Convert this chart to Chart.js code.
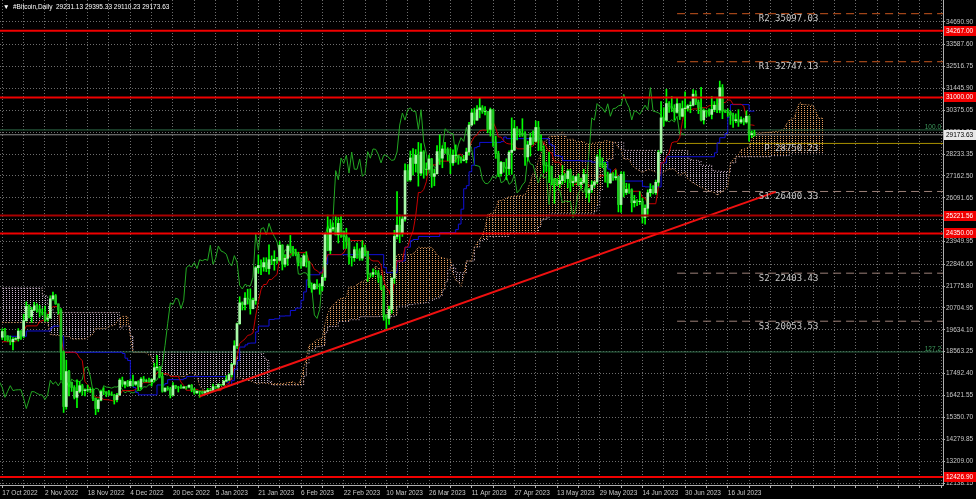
<!DOCTYPE html>
<html>
<head>
<meta charset="utf-8">
<script src="https://cdn.jsdelivr.net/npm/chart.js@4.4.0/dist/chart.umd.min.js"></script>
<style>
  html, body { margin: 0; padding: 0; background: #000; }
  #wrap { width: 976px; height: 499px; position: relative; }
</style>
</head>
<body>
<div id="wrap"><canvas id="myChart"></canvas></div>
<script>
// daily bars, day 0 = 17 Oct 2022 ... day 282 = 26 Jul 2023
const firstOpen = 19270;
const highs = [
  19680,19700,19350,19330,19250,19250,19690,19600,20400,21000,
  20860,20740,20980,20900,20830,20660,20790,20390,21300,21480,
  21360,20900,20670,18600,18150,17650,17070,16900,17180,17100,
  16970,16740,16930,16800,16750,16300,16250,16680,16800,16610,
  16660,16600,16480,16530,17240,17320,17100,17160,17200,17420,
  17110,17140,17300,17350,17220,17270,17240,18000,18390,17850,
  17530,16800,16860,16820,17050,16920,16870,16940,16860,16860,
  16940,16960,16780,16650,16640,16640,16630,16770,16760,16980,
  16880,16990,16960,17170,17390,17480,17990,19100,19960,21250,
  21000,21460,21620,21640,21190,22730,23300,23060,23160,23160,
  23790,23250,23500,23180,23950,23800,23310,23800,24250,23720,
  23580,23430,23160,23350,23450,22990,21930,21900,22090,21890,
  22320,24370,25250,25020,24870,25180,25120,25250,24470,24600,
  24130,23220,23690,23870,23600,24000,23780,23480,22410,22610,
  22550,22530,22270,21800,20370,20790,22180,24500,26400,25250,
  25200,27750,27720,28380,28500,28450,28800,28740,28400,27800,
  28180,28020,27500,28640,29170,28640,28800,28540,28500,28440,
  28680,28180,28100,28170,28520,29780,30420,30480,30600,31000,
  30600,30550,30320,30480,30410,29100,28370,27880,27830,28000,
  28390,30000,29880,29580,29450,29960,29330,28860,29260,29370,
  29850,29830,29170,28640,27840,28330,27640,27050,27030,27190,
  27670,27270,27470,27480,27170,27150,27270,27050,27490,27230,
  26550,26920,26900,28190,28450,28040,27830,27350,27300,27320,
  27450,27130,27360,27360,26800,26780,26530,26210,26000,26400,
  26080,25750,26480,26780,26690,26960,28400,30800,30500,31400,
  30800,31050,30650,31000,30700,30830,31280,30650,30790,31380,
  31330,30880,31500,30440,30380,30440,31050,30800,30990,31800,
  31630,30400,30450,30340,30230,30200,30400,30050,29990,30340,
  30100,29360,29395.33
];
const lows = [
  19160,19100,19070,18900,18650,19130,19080,19160,19240,20060,
  20220,20000,20560,20500,20250,20350,20060,20050,20190,21080,
  20880,20400,17170,15590,15750,16400,16620,16250,15820,16550,
  16430,16400,16590,16560,16170,15480,15620,16160,16460,16360,
  16420,16410,16000,16110,16430,16860,16790,16860,16880,16880,
  16910,16680,16730,17080,17090,17070,16880,17080,17660,17280,
  16580,16590,16670,16300,16400,16750,16590,16760,16780,16730,
  16790,16600,16480,16510,16330,16490,16500,16550,16610,16660,
  16760,16680,16910,16910,17100,17140,17320,17910,18720,19900,
  20600,20600,20890,20400,20660,20880,22400,22330,22500,22480,
  22360,22820,22550,22880,23000,22560,22710,22780,23380,23250,
  23260,22760,22630,22750,22700,21700,21470,21600,21630,21370,
  21540,22050,23500,23350,24460,24270,23880,24150,23600,23620,
  22850,22750,22980,23120,23030,23030,23230,22000,22200,22220,
  22330,21950,21600,20100,19600,19900,20440,21900,24080,23900,
  24200,24950,26900,26900,27200,27350,26660,27180,27050,27200,
  27460,26600,26680,27250,27720,27560,28260,27900,27270,27680,
  27830,27730,27800,27890,27800,28180,29630,29700,29870,30000,
  30220,30150,29270,29110,28600,28020,27130,27150,27340,26970,
  27210,27240,28390,28920,29080,29100,27680,27880,28130,28700,
  28820,28400,28380,27300,27380,26830,26720,25820,26690,26590,
  26760,26840,26580,26390,26660,26840,26690,26550,26800,26100,
  25880,26350,26600,26800,27600,27560,26860,26610,26800,26940,
  26960,25400,25370,26130,26250,26300,25400,25640,25700,25760,
  24850,24800,25180,26160,26280,26260,26670,28270,29600,29830,
  30270,30300,29900,30230,29920,30050,29500,30330,30250,30580,
  30650,30210,29850,29700,30050,30080,29950,30300,30250,30250,
  29960,30250,30070,29680,29530,29760,29580,29730,29660,29740,
  28860,29030,29110.23
];
const closes = [
  19550,19330,19130,19050,19170,19205,19570,19330,20080,20770,
  20290,20600,20810,20630,20490,20480,20150,20210,21150,21300,
  20900,20590,18540,15880,17590,17070,16810,16330,16620,16900,
  16660,16690,16700,16700,16280,15780,16190,16610,16600,16520,
  16460,16440,16220,16440,17170,16970,17090,16890,17110,16970,
  17090,16840,17220,17130,17130,17100,17200,17780,17810,17360,
  16630,16780,16740,16440,16900,16830,16820,16780,16840,16830,
  16920,16700,16550,16630,16600,16540,16610,16670,16670,16850,
  16830,16950,16940,17120,17180,17440,17940,18850,19930,20950,
  20870,21180,21130,20670,21070,22670,22780,22710,22920,22630,
  23060,23010,23080,23030,23770,22840,23130,23730,23490,23430,
  23330,22930,22760,23260,22950,21800,21630,21860,21790,21780,
  22200,24330,23520,24570,24630,24280,24840,24450,24190,23950,
  23200,23160,23550,23490,23140,23650,23470,22360,22350,22430,
  22410,22200,21720,20360,20190,20630,22160,24200,24750,24380,
  25050,27420,26970,28040,27770,28170,27300,28330,27490,27490,
  27990,27140,27270,28350,28030,28480,28460,28200,27800,28170,
  28180,28040,27920,27950,28330,29650,30240,29890,30400,30490,
  30320,30320,29440,30400,28820,28250,27280,27820,27590,27520,
  28310,28420,29470,29340,29250,29230,28090,28680,29030,28850,
  29530,28900,28450,27690,27660,27620,26990,26800,26780,26930,
  27170,27030,27400,26830,26890,27120,26750,26850,27230,26330,
  26480,26720,26870,28090,27750,27700,27220,26820,27250,27070,
  27120,25760,27240,26350,26500,26480,25850,25940,25900,25920,
  25130,25580,26340,26510,26340,26850,28310,30000,29890,30700,
  30550,30470,30270,30690,30080,30450,30480,30590,30620,31160,
  30770,30510,29900,30350,30290,30170,30410,30620,30390,31480,
  30330,30300,30250,30140,29860,29910,29800,29910,29800,30080,
  29180,29231.13,29173.63
];

// Ichimoku lines, [day, price]
const tenkan = [
  [0,19050],[5,19050],[6,19175],[8,19525],[9,19825],[13,19825],[14,20040],[16,20120],[18,20650],[19,20765],
  [21,20765],[22,19325],[23,18535],[27,18535],[28,18475],[29,18245],[30,18130],[31,17095],[32,16950],[33,16735],
  [34,16500],[35,16330],[37,16330],[38,16225],[40,16205],[42,16140],[44,16430],[45,16660],[49,16660],[50,16710],
  [52,16925],[53,17050],[56,17050],[57,17340],[58,17535],[59,17535],[60,17485],[62,17485],[63,17345],[66,17345],
  [67,17075],[68,16915],[69,16675],[71,16675],[72,16725],[73,16720],[74,16645],[78,16645],[79,16655],[82,16660],
  [83,16830],[84,16945],[85,17015],[86,17300],[87,17855],[88,18320],[89,18965],[90,19080],[91,19185],[92,19360],
  [93,19390],[94,19480],[95,20320],[96,21010],[97,21600],[98,21850],[99,21850],[100,22095],[101,22095],[102,22225],
  [103,22335],[104,23140],[105,23140],[106,23155],[107,23155],[108,23305],[109,23400],[111,23400],[112,23405],[113,23405],
  [114,23440],[115,22975],[116,22860],[117,22595],[118,22525],[119,22410],[120,22410],[121,22870],[122,23310],[127,23310],
  [128,23395],[129,23650],[130,24050],[131,24000],[135,24000],[136,23675],[137,23300],[138,23065],[139,23000],[141,23000],
  [142,22800],[143,22050],[144,21690],[145,21540],[146,21105],[147,22050],[148,23000],[150,23000],[151,23675],[152,23675],
  [153,24140],[154,24470],[155,25200],[156,26350],[157,26350],[158,26500],[159,26875],[160,27730],[161,27700],[163,27700],
  [164,27885],[169,27885],[170,27925],[171,28210],[172,28220],[173,28035],[174,28035],[175,28525],[176,28845],[177,29080],
  [178,29165],[179,29365],[180,29400],[182,29400],[183,29590],[184,29800],[185,29510],[186,29065],[187,29065],[188,28865],
  [189,28760],[190,28725],[191,28725],[192,28690],[193,28485],[197,28485],[198,28605],[199,28620],[200,28820],[203,28820],
  [204,28575],[205,28340],[206,28285],[207,27835],[208,27835],[209,27825],[210,27495],[211,27230],[212,27075],[213,27075],
  [214,26745],[215,26745],[216,27030],[218,27030],[219,26795],[220,26685],[222,26685],[223,27035],[224,27165],[228,27165],
  [229,27400],[230,27525],[231,26925],[232,26910],[233,26705],[234,26600],[235,26410],[239,26410],[240,26105],[241,26080],
  [242,25800],[245,25800],[246,26600],[247,27800],[248,27800],[249,28100],[250,28290],[251,28780],[252,28830],[253,28830],
  [254,29035],[255,29835],[256,30450],[257,30450],[258,30390],[259,30440],[261,30440],[262,30500],[264,30500],[265,30600],
  [268,30600],[269,30750],[271,30750],[272,30875],[273,30875],[274,30665],[277,30665],[278,30580],[279,29990],[280,29655],
  [281,29655],[282,29630]
];
const kijun = [
  [0,19315],[9,19575],[18,19725],[19,19815],[22,19325],[23,18535],[45,18475],[46,18245],[47,18130],[48,17095],
  [49,16815],[50,16565],[51,16450],[58,16935],[61,17005],[62,17195],[68,17250],[69,17345],[84,17075],[85,16915],
  [86,17145],[87,17700],[88,18130],[89,18790],[91,18895],[92,18975],[93,18985],[95,19530],[96,19815],[100,20140],
  [102,20170],[104,20305],[106,20315],[108,20580],[110,20695],[112,21080],[113,21485],[114,22075],[115,22325],[119,22455],
  [120,22565],[121,22870],[122,23310],[143,22675],[144,22425],[148,23000],[151,23675],[153,23990],[154,24050],[156,24200],
  [164,24385],[170,24535],[171,24805],[172,25535],[173,26535],[174,26685],[175,27365],[176,27685],[177,28540],[178,28600],
  [179,28800],[187,28840],[188,29065],[189,28985],[205,28715],[206,28635],[207,28150],[209,28115],[210,27910],[217,27890],
  [221,27835],[226,27825],[227,27495],[228,27230],[229,27135],[232,26910],[240,26650],[241,26625],[247,27800],[249,28100],
  [267,28290],[268,28780],[269,29030],[271,29235],[272,30035],[273,30650],[280,30330],[282,30330]
];
const senkouA = [
  [0,19990],[17,19990],[18,19400],[25,19300],[26,19183],[31,19183],[32,19245],[34,19420],[35,19700],[39,19700],
  [40,19808],[42,19848],[44,20188],[45,20290],[47,20290],[48,19325],[49,18535],[53,18535],[54,18505],[55,18390],
  [56,18333],[57,17815],[58,17743],[59,17635],[60,17518],[61,17433],[64,17380],[66,17370],[68,17338],[70,17483],
  [71,17568],[72,17453],[73,17395],[74,16878],[75,16738],[76,16638],[77,16580],[78,16688],[79,16750],[83,16895],
  [84,17235],[86,17210],[87,17245],[88,17340],[89,17270],[93,17135],[94,17083],[95,17010],[98,17035],[100,16995],
  [105,17000],[109,17088],[110,17010],[111,16965],[112,17223],[113,17778],[114,18225],[115,18878],[116,18935],[117,19040],
  [118,19168],[119,19188],[120,19233],[121,19925],[122,20413],[123,20708],[124,20833],[126,21118],[128,21198],[129,21253],
  [130,21723],[132,21735],[134,21943],[135,21990],[136,22048],[138,22243],[139,22445],[140,22758],[141,22650],[142,22593],
  [143,22460],[144,22425],[145,22433],[146,22488],[147,22870],[148,23310],[153,23310],[154,23353],[155,23480],[156,23680],
  [157,23655],[161,23655],[162,23493],[163,23305],[164,23188],[165,23155],[168,23055],[169,22363],[170,22058],[171,21983],
  [172,21765],[173,22238],[174,23000],[176,23000],[177,23675],[179,24065],[180,24260],[181,24625],[182,25275],[184,25350],
  [185,25538],[186,25965],[187,25950],[190,26135],[196,26230],[197,26508],[198,26878],[199,27285],[200,27360],[201,27945],
  [202,28265],[203,28810],[204,28883],[205,29083],[206,29100],[208,29100],[209,29195],[210,29300],[211,29155],[212,28933],
  [213,28953],[214,28965],[215,28873],[216,28855],[218,28838],[219,28735],[224,28795],[225,28803],[226,28903],[230,28780],
  [231,28528],[232,28460],[233,27993],[235,27970],[236,27703],[237,27570],[238,27493],[240,27328],[242,27470],[243,27460],
  [245,27343],[246,27288],[247,27260],[249,27435],[250,27500],[252,27495],[253,27330],[254,27198],[255,27268],[256,27330],
  [257,27030],[258,26910],[259,26808],[260,26755],[261,26660],[266,26378],[267,26353],[268,26213],[272,26613],[273,27800],
  [275,28100],[276,28195],[277,28440],[278,28465],[280,28568],[281,28968],[282,29275],[284,29245],[285,29270],[288,29300],
  [291,29350],[293,29445],[294,29690],[295,29890],[297,29993],[298,30455],[299,30763],[300,30658],[304,30615],[305,30320],
  [306,29993],[308,29980]
];
const senkouB = [
  [0,21675],[15,21300],[17,20875],[18,20675],[19,20475],[44,19725],[45,19815],[48,19325],[49,18535],[97,18475],
  [98,18245],[99,18130],[100,17095],[101,16935],[113,17360],[114,17980],[115,18625],[117,18730],[118,18810],[119,18820],
  [120,18875],[121,19515],[122,19800],[126,20045],[130,20125],[134,20275],[141,20290],[147,20350],[148,20790],[152,20870],
  [154,20900],[156,20930],[158,20965],[160,21080],[162,21175],[163,21195],[164,21285],[165,21580],[166,21985],[167,22575],
  [168,22825],[169,22675],[170,22425],[174,23000],[177,23675],[179,23990],[180,24050],[182,24200],[190,24385],[201,24690],
  [202,25010],[203,25040],[204,25100],[205,25300],[222,25450],[223,25720],[224,26450],[225,27450],[226,27600],[227,27975],
  [229,28800],[233,28410],[257,28000],[258,27960],[259,27925],[261,27890],[262,27685],[266,27425],[267,27400],[269,27380],
  [273,27800],[275,28100],[288,28150],[295,28300],[308,28300]
];

// horizontal levels, pivots, fibo, trend line
const redLevels = [34267.00, 31000.00, 25221.56, 24350.00, 12426.90];
const pivotNames = ["R2", "R1", "P", "S1", "S2", "S3"];
const pivotValues = [35097.03, 32747.13, 28750.23, 26400.33, 22403.43, 20053.53];
const fiboNames = ["100.0", "127.2"];
const fiboValues = [29410, 18550];
const trendDays = [74, 290];
const trendValues = [16380, 26380];
const lastPrice = 29173.63;
const titleText = "#Bitcoin,Daily  29231.13 29395.33 29110.23 29173.63";

const xTickLabels = ["17 Oct 2022", "2 Nov 2022", "18 Nov 2022", "4 Dec 2022", "20 Dec 2022",
  "5 Jan 2023", "21 Jan 2023", "6 Feb 2023", "22 Feb 2023", "10 Mar 2023", "26 Mar 2023",
  "11 Apr 2023", "27 Apr 2023", "13 May 2023", "29 May 2023", "14 Jun 2023", "30 Jun 2023", "16 Jul 2023"];
const yTickLabels = ["34690.90", "33587.60", "32516.75", "31445.90", "30375.05", "29304.20", "28233.35",
  "27162.50", "26091.65", "25020.80", "23949.95", "22846.65", "21775.80", "20704.95", "19634.10",
  "18563.25", "17492.40", "16421.55", "15350.70", "14279.85", "13209.00", "12138.15"];

const xMin = -0.86, xMax = 352.7;
const yMin = 12041, yMax = 35767;
const pivotFrom = 253;
const pivotLabelDay = 306;
const FONT = '"Liberation Sans", "DejaVu Sans", sans-serif';

const ctx = document.getElementById("myChart").getContext("2d");

function dotPattern(color) {
  const c = document.createElement("canvas");
  c.width = 3; c.height = 2;
  const g = c.getContext("2d");
  g.fillStyle = color;
  g.fillRect(0, 0, 1, 1);
  return ctx.createPattern(c, "repeat");
}

const opens = closes.map((c, i) => (i ? closes[i - 1] : firstOpen));
const pts = (arr) => arr.map(([d, v]) => ({ x: d, y: v }));
const hline = (v, from) => [{ x: from, y: v }, { x: xMax, y: v }];

const lineBase = { type: "line", pointRadius: 0, borderWidth: 1, tension: 0, fill: false };

const datasets = [];
// red levels
redLevels.forEach((v, i) => datasets.push(Object.assign({}, lineBase, {
  data: hline(v, xMin), borderColor: i === 2 ? "#a80000" : "#f00000", borderWidth: 2
})));
// trend line
datasets.push(Object.assign({}, lineBase, {
  data: trendDays.map((d, i) => ({ x: d, y: trendValues[i] })), borderColor: "#f01010", borderWidth: 2
}));
// candles
datasets.push({
  type: "bar", grouped: false, barThickness: 2, borderWidth: 0,
  data: closes.map((c, i) => ({ x: i, y: [opens[i], c] })),
  backgroundColor: closes.map((c, i) => (c >= opens[i] ? "#a8f8a8" : "#20c820"))
});
datasets.push({
  type: "bar", grouped: false, barThickness: 1, borderWidth: 0,
  data: highs.map((h, i) => ({ x: i, y: [lows[i], h] })),
  backgroundColor: "#00ff00"
});
// ichimoku lines
datasets.push(Object.assign({}, lineBase, { data: pts(tenkan), borderColor: "#c80000" }));
datasets.push(Object.assign({}, lineBase, { data: pts(kijun), borderColor: "#1010d8", stepped: true }));
datasets.push(Object.assign({}, lineBase, {
  data: closes.map((c, i) => ({ x: i - 26, y: c })), borderColor: "#22a822"
}));
// pivots
pivotValues.forEach((v, i) => {
  const name = pivotNames[i];
  const isP = name === "P";
  datasets.push(Object.assign({}, lineBase, {
    data: hline(v, pivotFrom),
    borderColor: isP ? "#a89000" : (name[0] === "R" ? "#c8561e" : "#9c8078"),
    borderDash: isP ? [] : [8, 5]
  }));
});
// fibo levels + bid line
fiboValues.forEach((v) => datasets.push(Object.assign({}, lineBase, { data: hline(v, xMin), borderColor: "#2e6b48" })));
datasets.push(Object.assign({}, lineBase, { data: hline(lastPrice, xMin), borderColor: "#8a8a8a" }));
// cloud
const aIndex = datasets.length;
datasets.push(Object.assign({}, lineBase, {
  data: pts(senkouA), borderColor: "#f4a460", borderDash: [1, 2],
  fill: { target: aIndex + 1, above: dotPattern("#e8a060"), below: dotPattern("#c8b4c8") }
}));
datasets.push(Object.assign({}, lineBase, {
  data: pts(senkouB), borderColor: "#d8bfd8", borderDash: [1, 2], stepped: true
}));

const overlay = {
  id: "overlay",
  afterDraw(chart) {
    const { ctx: c, scales: { x, y }, chartArea } = chart;
    c.save();
    c.textBaseline = "middle";
    // title
    c.font = "6.5px " + FONT;
    c.fillStyle = "#ffffff";
    c.fillText("\u25BC", 3, 7);
    c.fillText(titleText, 13, 7);
    // pivot labels
    c.font = "9px \"DejaVu Sans Mono\", monospace";
    c.fillStyle = "#c8c8c8";
    c.textAlign = "right";
    pivotValues.forEach((v, i) => {
      c.fillText(pivotNames[i] + " " + v.toFixed(2), x.getPixelForValue(pivotLabelDay), y.getPixelForValue(v) + 5);
    });
    // fibo labels
    c.font = "6.5px " + FONT;
    c.fillStyle = "#3c9a5c";
    fiboValues.forEach((v, i) => {
      c.fillText(fiboNames[i], chartArea.right - 2, y.getPixelForValue(v) - 3);
    });
    // price tags on the axis
    c.textAlign = "left";
    const tag = (v, bg, fg) => {
      const py = Math.round(y.getPixelForValue(v));
      c.fillStyle = bg;
      c.fillRect(chartArea.right + 1, py - 5, 33, 10);
      c.fillStyle = fg;
      c.fillText(v.toFixed(2), chartArea.right + 3, py);
    };
    redLevels.forEach((v) => tag(v, "#f00000", "#ffffff"));
    tag(lastPrice, "#e8e8e8", "#000000");
    c.restore();
  }
};

new Chart(ctx, {
  type: "line",
  data: { datasets },
  options: {
    responsive: true,
    maintainAspectRatio: false,
    animation: false,
    devicePixelRatio: 1,
    events: [],
    layout: { padding: 0 },
    plugins: { legend: { display: false }, tooltip: { enabled: false } },
    scales: {
      x: {
        type: "linear", min: xMin, max: xMax, offset: false,
        afterBuildTicks: (s) => {
          const t = [];
          for (let d = 0; d <= xMax; d += 8) t.push({ value: d });
          s.ticks = t;
        },
        afterFit: (s) => { s.height = 14; s.paddingLeft = 0; s.paddingRight = 0; },
        ticks: {
          autoSkip: false, maxRotation: 0, minRotation: 0, align: "start", padding: 1,
          color: "#c8c8c8", font: { family: FONT, size: 6.5 },
          callback: (v) => (v % 16 === 0 && xTickLabels[v / 16]) || ""
        },
        grid: { color: "#6e6e6e", offset: false, tickLength: 3, tickColor: "#b0b0b0" },
        border: { color: "#b0b0b0", dash: [1, 2] }
      },
      y: {
        type: "linear", position: "right", min: yMin, max: yMax,
        afterBuildTicks: (s) => { s.ticks = yTickLabels.map((t) => ({ value: parseFloat(t) })); },
        afterFit: (s) => { s.width = 33; s.paddingTop = 0; s.paddingBottom = 0; },
        ticks: {
          autoSkip: false, padding: 1, color: "#c8c8c8", font: { family: FONT, size: 6.5 },
          callback: (v, i) => yTickLabels[i]
        },
        grid: { color: "#6e6e6e", tickLength: 2, tickColor: "#b0b0b0" },
        border: { color: "#b0b0b0", dash: [1, 2] }
      }
    }
  },
  plugins: [overlay]
});
</script>
</body>
</html>
